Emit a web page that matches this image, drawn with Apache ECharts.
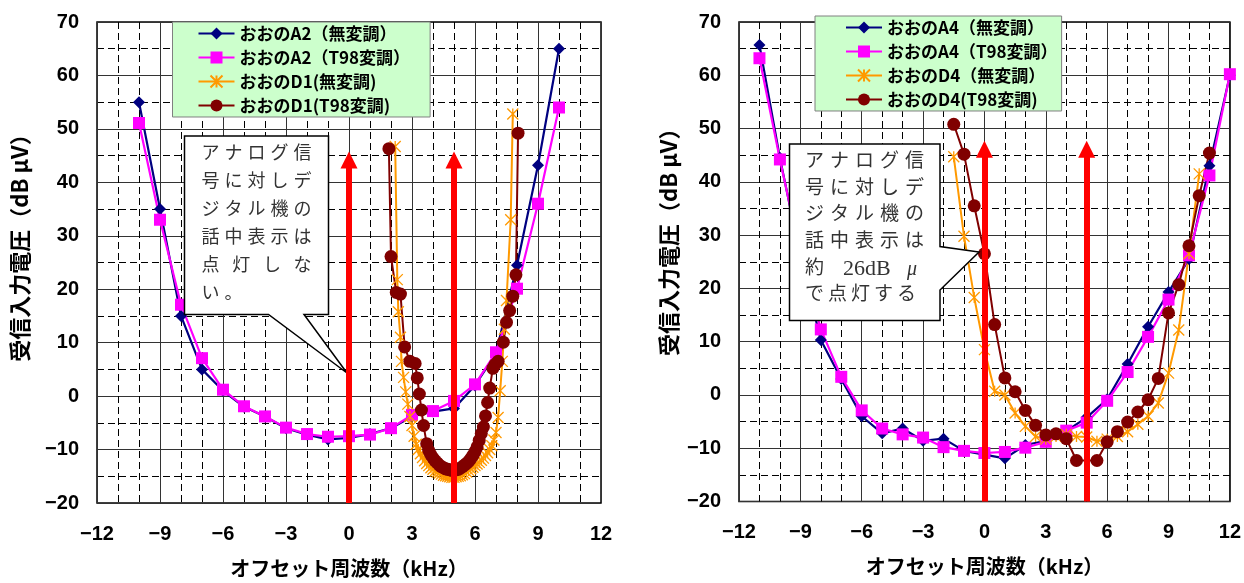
<!DOCTYPE html>
<html lang="ja">
<head>
<meta charset="utf-8">
<title>受信入力電圧とオフセット周波数</title>
<script src="https://cdn.jsdelivr.net/npm/echarts@6/dist/echarts.min.js"></script>
<style>
  html, body { margin: 0; padding: 0; background: #fff; }
  #chart { width: 1244px; height: 583px; }
</style>
</head>
<body>
<div id="chart"></div>
<script>
// ---- 左グラフ: おおのA2 / おおのD1 ----
const a2Freq = [-10, -9, -8, -7, -6, -5, -4, -3, -2, -1, 0, 1, 2, 3, 4, 5, 6, 7, 8, 9, 10];
const a2Plain = [55, 35, 15, 5, 1, -2, -3.8, -6, -7.2, -8.1, -7.8, -7.1, -6, -3.8, -2.9, -2.3, 2, 8, 24.5, 43.2, 65];
const a2T98 = [51.1, 33, 17.1, 7.1, 1.2, -1.9, -3.8, -5.9, -7.1, -7.6, -7.5, -7.2, -6, -3.5, -2.8, -0.9, 2.2, 8.2, 20.1, 36, 54];

const d1PlainFreq = [2.2, 2.3, 2.35, 2.45, 2.5, 2.6, 2.7, 2.8, 2.9, 3.0, 3.1, 3.2, 3.3, 3.4, 3.5,
  3.6, 3.7, 3.8, 3.9, 4.0, 4.1, 4.2, 4.3, 4.4, 4.5, 4.6, 4.7, 4.8, 4.9, 5.0, 5.1, 5.2, 5.3, 5.4, 5.5,
  5.6, 5.7, 5.8, 5.9, 6.0, 6.1, 6.2, 6.3, 6.4, 6.5, 6.6, 6.7, 6.8, 6.9, 7.0, 7.1, 7.2, 7.3, 7.4, 7.5,
  7.7, 7.8];
const d1PlainLevel = [46.7, 21.8, 15.8, 11.0, 6.5, 3.5, 0.8, -1.5, -3.8, -5.5, -7.5, -9.0, -10.0, -10.8, -11.5,
  -12.1, -12.6, -13.0, -13.4, -13.7, -14.0, -14.2, -14.4, -14.6, -14.8, -14.9, -15.0, -15.1, -15.2, -15.2, -15.1, -15.0, -14.9, -14.7, -14.5,
  -14.2, -13.9, -13.6, -13.3, -13.0, -12.7, -12.4, -12.0, -11.6, -11.1, -10.6, -10.0, -9.3, -8.2, -6.8, -4.0, 1.0, 6.5, 12.5, 17.9,
  33.0, 52.8];

const d1T98Freq = [1.9, 2.0, 2.25, 2.45, 2.65, 2.9, 3.15, 3.25, 3.35, 3.45, 3.55, 3.7,
  3.8, 3.9, 4.0, 4.1, 4.2, 4.3, 4.4, 4.5, 4.6, 4.7, 4.8, 4.9, 5.0, 5.1, 5.2, 5.3, 5.4, 5.5, 5.6, 5.7,
  5.8, 5.9, 6.0, 6.1, 6.2, 6.3, 6.4, 6.5, 6.6, 6.7,
  6.85, 6.95, 7.1, 7.35, 7.5, 7.65, 7.8, 7.95, 8.05];
const d1T98Level = [46.3, 26.1, 19.4, 19.1, 9.2, 6.5, 6.1, 3.4, 0.4, -2.6, -5.5, -8.9,
  -10.2, -11.0, -11.6, -12.1, -12.5, -12.9, -13.2, -13.4, -13.6, -13.7, -13.8, -13.9, -13.9, -13.8, -13.7, -13.5, -13.2, -12.9, -12.6, -12.2,
  -11.7, -11.1, -10.4, -9.5, -8.3, -7.0, -5.8, -3.7, -1.2, 1.5,
  5.2, 5.9, 6.5, 10.1, 13.8, 16.0, 18.7, 22.7, 49.2];

// ---- 右グラフ: おおのA4 / おおのD4 ----
const a4Freq = [-11, -10, -9, -8, -7, -6, -5, -4, -3, -2, -1, 0, 1, 2, 3, 4, 5, 6, 7, 8, 9, 10, 11, 12];
const a4Plain = [65.7, 44.5, 26, 10.3, 3.0, -4.0, -7.2, -6.3, -8.6, -8.2, -10.5, -11.2, -11.9, -9.4, -8.6, -6.8, -4.2, -0.8, 5.8, 12.8, 19.3, 25.5, 43, 60];
const a4T98 = [63.2, 44.2, 26.5, 12.3, 3.4, -2.9, -6.3, -7.4, -8.0, -9.8, -10.5, -10.9, -10.7, -9.9, -8.8, -6.7, -5.2, -1.1, 4.3, 10.9, 17.9, 26.2, 41.2, 60.2];

const d4PlainFreq = [-1.5, -1.0, -0.5, 0, 0.5, 1.0, 1.5, 2.0, 2.5, 3.0, 3.5, 4.0, 4.5, 5.0, 5.5, 6.0, 6.5, 7.0, 7.5, 8.0, 8.5, 9.0, 9.5, 10.0, 10.5];
const d4PlainLevel = [44.7, 29.8, 18.3, 8.5, 0.7, 0.0, -3.4, -5.9, -7.8, -8.3, -7.8, -7.4, -7.8, -7.9, -8.7, -8.3, -7.8, -6.9, -5.5, -4.0, -1.5, 4.1, 12.2, 26.5, 41.5];

const d4T98Freq = [-1.5, -1.0, -0.5, 0, 0.5, 1.0, 1.5, 2.0, 2.5, 3.0, 3.5, 4.0, 4.5, 5.5, 6.0, 6.5, 7.0, 7.5, 8.0, 8.5, 9.0, 9.5, 10.0, 10.5, 11.0];
const d4T98Level = [50.8, 45.2, 35.5, 26.5, 13.2, 3.2, 0.6, -2.9, -5.7, -7.5, -7.3, -8.2, -12.3, -12.3, -8.8, -6.9, -5.1, -3.2, -0.9, 3.1, 15.4, 20.7, 28.0, 37.4, 45.4];

// 軸目盛り
const freqMin = -12, freqMax = 12, freqStep = 3;
const levelMin = -20, levelMax = 70, levelStep = 10;

// 赤矢印 (周波数, 矢印の先端)
const arrowFreqs = [0, 5];
const arrowTipLeft = 44.2;
const arrowTipRight = 46.1;

const FONT_JP = '"Noto Sans CJK JP", "Noto Sans", sans-serif';
const FONT_NUM = '"Liberation Sans", Arial, sans-serif';
const FONT_NOTE = '"Liberation Serif", "Noto Sans CJK JP", serif';

const chart = echarts.init(document.getElementById('chart'));

const pairs = (xs, ys) => xs.map((x, i) => [x, ys[i]]);
const numFmt = v => (v < 0 ? '\u2212' + Math.abs(v) : String(v));

const starPath = 'path://M0,0L10,10M0,10L10,0M5,0L5,10';

function lineSeries(name, data, idx, kind) {
  const styles = {
    navy: { color: '#000080', symbol: 'diamond', size: 12, width: 2.2 },
    pink: { color: '#FF00FF', symbol: 'rect', size: 12, width: 2.2 },
    orange: { color: '#FF9900', symbol: starPath, size: 11, width: 2 },
    brown: { color: '#800000', symbol: 'circle', size: 13, width: 2 }
  };
  const s = styles[kind];
  return {
    type: 'line',
    name: name,
    xAxisIndex: idx,
    yAxisIndex: idx,
    data: data,
    symbol: s.symbol,
    symbolSize: s.size,
    lineStyle: { color: s.color, width: s.width },
    itemStyle: kind === 'orange'
      ? { color: s.color, borderColor: s.color, borderWidth: 1.3 }
      : { color: s.color, borderWidth: 0 },
    emphasis: { disabled: true },
    z: 2
  };
}

function arrows(tip) {
  return {
    silent: true,
    symbol: ['none', 'triangle'],
    symbolSize: [17, 17],
    label: { show: false },
    lineStyle: { color: '#FF0000', width: 6, type: 'solid', opacity: 1 },
    itemStyle: { color: '#FF0000' },
    emphasis: { disabled: true },
    data: arrowFreqs.map(f => [{ coord: [f, levelMin] }, { coord: [f, tip] }])
  };
}

function xAxis(idx) {
  return {
    type: 'value', gridIndex: idx,
    min: freqMin, max: freqMax, interval: freqStep,
    axisLine: { show: false }, axisTick: { show: false },
    axisLabel: { margin: 21, fontSize: 20, fontWeight: 'bold', fontFamily: FONT_NUM, color: '#000', formatter: numFmt },
    splitLine: { show: true, lineStyle: { color: '#333', width: 1 } },
    minorTick: { show: false, splitNumber: 3 },
    minorSplitLine: { show: true, lineStyle: { color: '#000', width: 1, type: [7, 4] } },
    name: 'オフセット周波数（kHz）',
    nameLocation: 'middle', nameGap: 55,
    nameTextStyle: { fontSize: 20, fontWeight: 'bold', fontFamily: FONT_JP, color: '#000' }
  };
}

function yAxis(idx, gap, lift) {
  return {
    type: 'value', gridIndex: idx,
    min: levelMin, max: levelMax, interval: levelStep,
    axisLine: { show: false }, axisTick: { show: false },
    axisLabel: { margin: 18, fontSize: 20, fontWeight: 'bold', fontFamily: FONT_NUM, color: '#000', formatter: numFmt },
    splitLine: { show: true, lineStyle: { color: '#333', width: 1 } },
    minorTick: { show: false, splitNumber: 2 },
    minorSplitLine: { show: true, lineStyle: { color: '#000', width: 1, type: [7, 4] } },
    name: '受信入力電圧（dB μV）',
    nameLocation: 'middle', nameGap: gap,
    nameTextStyle: { fontSize: 22, fontWeight: 'bold', fontFamily: FONT_JP, color: '#000', padding: [0, 0, 0, lift] }
  };
}

function legend(names, left, top, pad) {
  return {
    data: names,
    orient: 'vertical',
    left: left, top: top,
    backgroundColor: '#CCFFCC',
    borderColor: '#808080', borderWidth: 1,
    padding: pad,
    itemWidth: 36, itemHeight: 15, itemGap: 7,
    selectedMode: false,
    textStyle: { fontSize: 17, fontWeight: 'bold', fontFamily: FONT_JP, color: '#000' }
  };
}

// 吹き出しの文字 (一文字ずつ配置)
function noteChars(lines, x0, y0, lineH, size) {
  const out = [];
  lines.forEach((ln, r) => {
    Array.from(ln.t).forEach((ch, c) => {
      out.push({
        type: 'text', z: 3,
        x: x0 + c * ln.adv, y: y0 + r * lineH,
        style: { text: ch, fontSize: size, fontFamily: FONT_NOTE, fill: '#333', align: 'center', verticalAlign: 'middle' }
      });
    });
  });
  return out;
}

const leftNames = ['おおのA2（無変調）', 'おおのA2（T98変調）', 'おおのD1(無変調)', 'おおのD1(T98変調)'];
const rightNames = ['おおのA4（無変調）', 'おおのA4（T98変調）', 'おおのD4（無変調）', 'おおのD4(T98変調)'];

const leftNote = [
  { t: 'アナログ信', adv: 23 }, { t: '号に対しデ', adv: 23 }, { t: 'ジタル機の', adv: 23 },
  { t: '話中表示は', adv: 23 }, { t: '点灯しな', adv: 30.7 }, { t: 'い。', adv: 23 }
];
const rightNote = [
  { t: 'アナログ信', adv: 25 }, { t: '号に対しデ', adv: 25 }, { t: 'ジタル機の', adv: 25 },
  { t: '話中表示は', adv: 25 }, { t: '約', adv: 25 }, { t: 'で点灯する', adv: 23 }
];

const graphics = [
  {
    type: 'polygon', z: 3,
    shape: { points: [[184.5, 136], [328.5, 136], [328.5, 314.5], [304, 314.5], [347, 373], [268.5, 314.5], [184.5, 314.5]] },
    style: { fill: '#fff', stroke: '#000', lineWidth: 1.5 }
  },
  {
    type: 'polygon', z: 3,
    shape: { points: [[789.5, 144], [940, 144], [940, 246.5], [979, 252], [940, 290], [940, 320.5], [789.5, 320.5]] },
    style: { fill: '#fff', stroke: '#000', lineWidth: 1.5 }
  },
  ...noteChars(leftNote, 210.5, 154, 28, 18),
  ...noteChars(rightNote, 814.5, 162, 26.7, 19),
  {
    type: 'text', z: 3, x: 843, y: 269,
    style: { text: '26dB', fontSize: 22, fontFamily: FONT_NOTE, fill: '#333', align: 'left', verticalAlign: 'middle' }
  },
  {
    type: 'text', z: 3, x: 912, y: 270,
    style: { text: 'μ', fontSize: 20, fontStyle: 'italic', fontFamily: FONT_NOTE, fill: '#333', align: 'center', verticalAlign: 'middle' }
  }
];

const leftSeries = [
  lineSeries(leftNames[0], pairs(a2Freq, a2Plain), 0, 'navy'),
  lineSeries(leftNames[1], pairs(a2Freq, a2T98), 0, 'pink'),
  lineSeries(leftNames[2], pairs(d1PlainFreq, d1PlainLevel), 0, 'orange'),
  lineSeries(leftNames[3], pairs(d1T98Freq, d1T98Level), 0, 'brown')
];
leftSeries[3].markLine = arrows(arrowTipLeft);

const rightSeries = [
  lineSeries(rightNames[0], pairs(a4Freq, a4Plain), 1, 'navy'),
  lineSeries(rightNames[1], pairs(a4Freq, a4T98), 1, 'pink'),
  lineSeries(rightNames[2], pairs(d4PlainFreq, d4PlainLevel), 1, 'orange'),
  lineSeries(rightNames[3], pairs(d4T98Freq, d4T98Level), 1, 'brown')
];
rightSeries[3].markLine = arrows(arrowTipRight);

chart.setOption({
  animation: false,
  backgroundColor: '#fff',
  grid: [
    { left: 97, top: 22, width: 504, height: 488, show: true, borderColor: '#000', borderWidth: 1.5, backgroundColor: 'transparent' },
    { left: 739, top: 22, width: 494, height: 479.5, show: true, borderColor: '#000', borderWidth: 1.5, backgroundColor: 'transparent' }
  ],
  xAxis: [xAxis(0), xAxis(1)],
  yAxis: [yAxis(0, 66, 40), yAxis(1, 59, 50)],
  legend: [
    legend(leftNames, 172.5, 22, [3, 20, 3, 25]),
    legend(rightNames, 815, 16, [3, 4, 3, 30])
  ],
  series: leftSeries.concat(rightSeries),
  graphic: graphics
});
</script>
</body>
</html>
